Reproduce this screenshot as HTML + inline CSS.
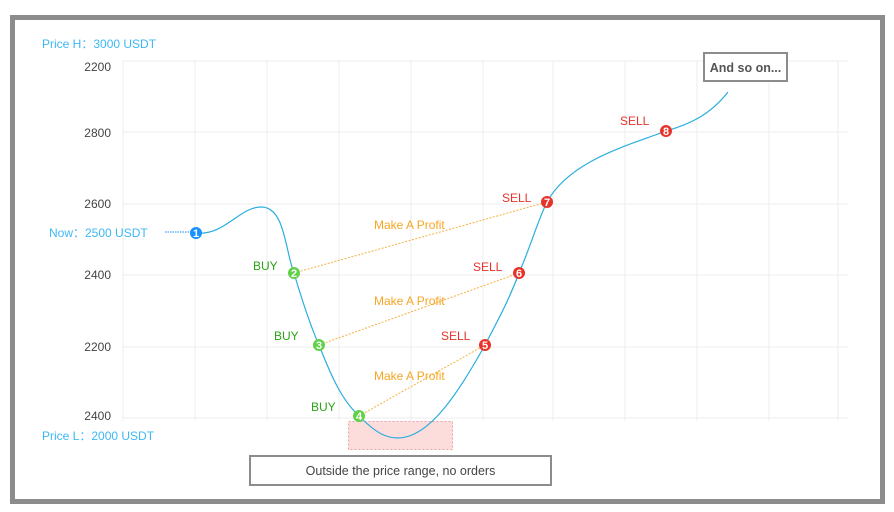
<!DOCTYPE html>
<html><head><meta charset="utf-8"><style>
body{margin:0;background:#fff;width:894px;height:512px;overflow:hidden}
svg{display:block;font-family:"Liberation Sans",sans-serif}
</style></head><body>
<svg width="894" height="512" viewBox="0 0 894 512">
<rect x="12.5" y="17.5" width="870" height="484" fill="#fff" stroke="#8c8c8c" stroke-width="5"/>
<g stroke="#ececec" stroke-width="1">
<line x1="123" y1="61" x2="848" y2="61"/><line x1="123" y1="132" x2="848" y2="132"/>
<line x1="123" y1="204" x2="848" y2="204"/><line x1="123" y1="275" x2="848" y2="275"/>
<line x1="123" y1="347" x2="848" y2="347"/><line x1="123" y1="418" x2="848" y2="418"/>
<line x1="123" y1="61" x2="123" y2="421"/><line x1="195" y1="61" x2="195" y2="421"/>
<line x1="267" y1="61" x2="267" y2="421"/><line x1="339" y1="61" x2="339" y2="421"/>
<line x1="411" y1="61" x2="411" y2="421"/><line x1="483" y1="61" x2="483" y2="421"/>
<line x1="553" y1="61" x2="553" y2="421"/><line x1="625" y1="61" x2="625" y2="421"/>
<line x1="697" y1="61" x2="697" y2="421"/><line x1="769" y1="61" x2="769" y2="421"/>
<line x1="838" y1="61" x2="838" y2="421"/>
</g>
<g font-size="12" fill="#444" text-anchor="end">
<text x="111" y="71">2200</text><text x="111" y="137">2800</text><text x="111" y="208">2600</text>
<text x="111" y="279">2400</text><text x="111" y="351">2200</text><text x="111" y="420">2400</text>
</g>
<g font-size="12" fill="#3db8f5">
<text x="42" y="48">Price H：3000 USDT</text>
<text x="49" y="237">Now：2500 USDT</text>
<text x="42" y="440">Price L：2000 USDT</text>
</g>
<line x1="165" y1="232" x2="192" y2="232" stroke="#1890ff" stroke-dasharray="1.5 1"/>
<rect x="348.5" y="421.5" width="104" height="28" fill="#fddcdc" stroke="#e9a0a0" stroke-dasharray="2 2"/>
<g stroke="#f5b040" stroke-dasharray="2 1.5" stroke-width="1">
<line x1="294" y1="273" x2="547" y2="202"/>
<line x1="319" y1="345" x2="519" y2="273"/>
<line x1="359" y1="416" x2="485" y2="345"/>
</g>
<path d="M196,233 C225,236 240,206 262,207 C285,208 285,250 294,273 C302,300 310,325 319,345 C332,378 342,400 359,416 C375,432 385,438 398,438 C430,438 460,390 485,345 C497,322 509,300 519,273 C530,248 538,220 547,202 C570,160 630,145 666,131 C690,124 710,115 728,92" fill="none" stroke="#29aede" stroke-width="1.2"/>
<g font-size="12" fill="#f5a623">
<text x="374" y="229">Make A Profit</text><text x="374" y="305">Make A Profit</text><text x="374" y="380">Make A Profit</text>
</g>
<g font-size="12" fill="#2aa515">
<text x="253" y="270">BUY</text><text x="274" y="340">BUY</text><text x="311" y="411">BUY</text>
</g>
<g font-size="12" fill="#e8332a">
<text x="502" y="202">SELL</text><text x="473" y="271">SELL</text><text x="441" y="340">SELL</text><text x="620" y="125">SELL</text>
</g>
<g font-size="11" font-weight="bold" fill="#fff" text-anchor="middle">
<circle cx="196" cy="233" r="6" fill="#1890ff"/><text x="196" y="237">1</text>
<circle cx="294" cy="273" r="6" fill="#62d14a"/><text x="294" y="277">2</text>
<circle cx="319" cy="345" r="6" fill="#62d14a"/><text x="319" y="349">3</text>
<circle cx="359" cy="416" r="6" fill="#62d14a"/><text x="359" y="420">4</text>
<circle cx="485" cy="345" r="6" fill="#e8332a"/><text x="485" y="349">5</text>
<circle cx="519" cy="273" r="6" fill="#e8332a"/><text x="519" y="277">6</text>
<circle cx="547" cy="202" r="6" fill="#e8332a"/><text x="547" y="206">7</text>
<circle cx="666" cy="131" r="6" fill="#e8332a"/><text x="666" y="135">8</text>
</g>
<rect x="704" y="53" width="83" height="28" fill="#fff" stroke="#8c8c8c" stroke-width="2"/>
<text x="745.5" y="72" font-size="12.5" font-weight="bold" fill="#555" text-anchor="middle">And so on...</text>
<rect x="250" y="456" width="301" height="29" fill="#fff" stroke="#8c8c8c" stroke-width="2"/>
<text x="400.5" y="475" font-size="12.5" fill="#444" text-anchor="middle">Outside the price range, no orders</text>
</svg>
</body></html>
